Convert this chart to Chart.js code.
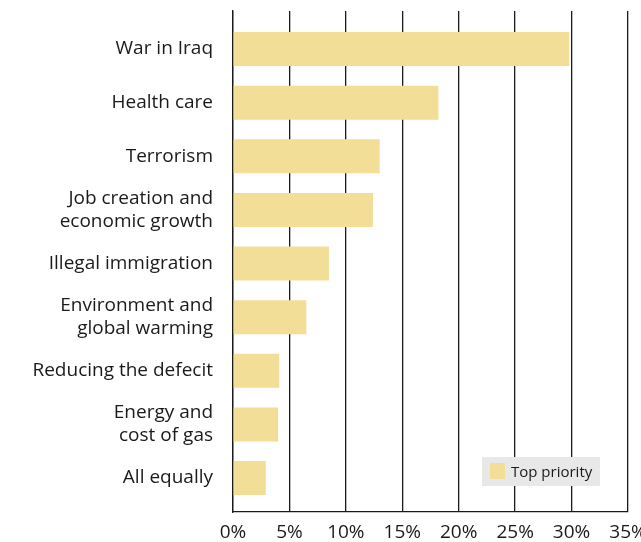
<!DOCTYPE html>
<html>
<head>
<meta charset="utf-8">
<script src="https://cdn.jsdelivr.net/npm/chart.js@4/dist/chart.umd.min.js"></script>
<style>
html,body{margin:0;padding:0;background:#fff;}
#wrap{width:641px;height:542px;position:relative;}
</style>
</head>
<body>
<div id="wrap"><canvas id="c"></canvas></div>
<script>
const categories = [
  "War in Iraq",
  "Health care",
  "Terrorism",
  ["Job creation and", "economic growth"],
  "Illegal immigration",
  ["Environment and", "global warming"],
  "Reducing the defecit",
  ["Energy and", "cost of gas"],
  "All equally"
];
const seriesName = "Top priority";
const topPriority = [29.8, 18.2, 13.0, 12.4, 8.5, 6.5, 4.1, 4.0, 2.9];
const xTicks = [0, 5, 10, 15, 20, 25, 30, 35];

const FONT = "'Open Sans', Lato, sans-serif";
const BAR = "#f2de96";
const INK = "#1a1a1a";

const legendPlugin = {
  id: 'boxLegend',
  afterDraw(chart) {
    const ctx = chart.ctx;
    const a = chart.chartArea;
    const x = a.right - 146, y = a.bottom - 55, w = 118, h = 29;
    ctx.save();
    ctx.fillStyle = '#e8e8e8';
    ctx.fillRect(x, y, w, h);
    ctx.fillStyle = chart.data.datasets[0].backgroundColor;
    ctx.fillRect(x + 8, y + 6, 15, 16);
    ctx.fillStyle = INK;
    ctx.font = "15px " + FONT;
    ctx.textBaseline = 'middle';
    ctx.fillText(chart.data.datasets[0].label, x + 29, y + h / 2 + 1);
    ctx.restore();
  }
};

new Chart(document.getElementById('c'), {
  type: 'bar',
  data: {
    datasets: [{
      label: seriesName,
      data: topPriority.map((v, i) => ({ x: v, y: i })),
      backgroundColor: BAR,
      borderWidth: 0,
      categoryPercentage: 1,
      barPercentage: 0.634
    }]
  },
  options: {
    indexAxis: 'y',
    responsive: true,
    maintainAspectRatio: false,
    animation: false,
    layout: { padding: { top: 11, right: 13, left: 0, bottom: 0 } },
    plugins: { legend: { display: false }, tooltip: { enabled: false } },
    scales: {
      x: {
        type: 'linear',
        min: 0, max: 35,
        afterBuildTicks(s) { s.ticks = xTicks.map(v => ({ value: v })); },
        afterFit(s) { s.height = 30; s.paddingLeft = 0; s.paddingRight = 0; },
        ticks: {
          callback: v => v + '%',
          color: INK,
          font: { family: FONT, size: 19 },
          padding: 9,
          maxRotation: 0
        },
        grid: { color: INK, lineWidth: 1.3, drawTicks: false },
        border: { display: true, color: INK, width: 1.3 }
      },
      y: {
        type: 'linear',
        reverse: true,
        offset: false,
        min: -0.709, max: 8.634,
        afterBuildTicks(s) { s.ticks = categories.map((c, i) => ({ value: i })); },
        afterFit(s) { s.width = 233; s.paddingTop = 0; s.paddingBottom = 0; },
        ticks: {
          callback: v => categories[v],
          color: INK,
          font: { family: FONT, size: 19, lineHeight: 1.2 },
          padding: 20,
          autoSkip: false
        },
        grid: { display: false, drawTicks: false, offset: false },
        border: { display: true, color: INK, width: 1.3 }
      }
    }
  },
  plugins: [legendPlugin]
});
</script>
</body>
</html>
